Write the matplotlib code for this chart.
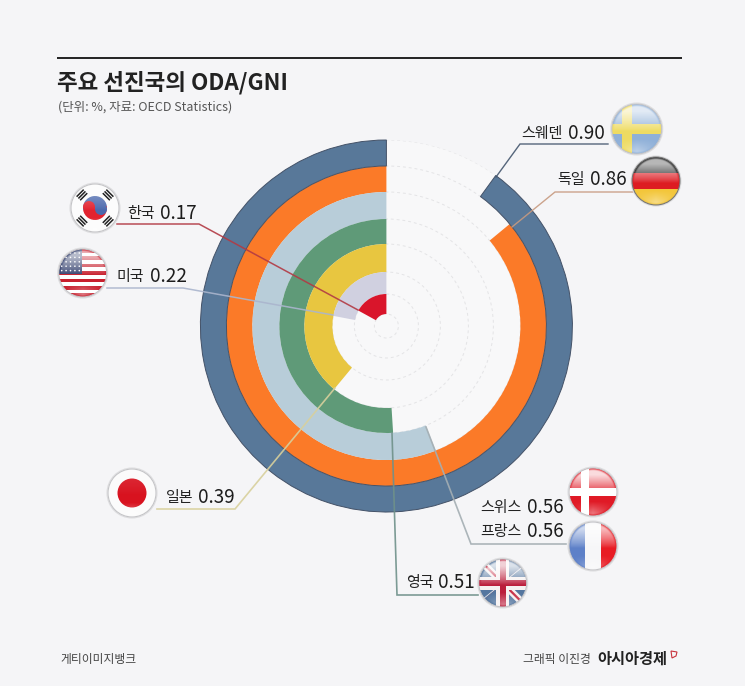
import numpy as np
import matplotlib
matplotlib.use("Agg")
import matplotlib.pyplot as plt
from matplotlib.patches import Circle, Rectangle, Polygon, Wedge

plt.rcParams['font.family'] = ['Noto Sans CJK KR', 'DejaVu Sans']

# ---- data ----
countries = ['스웨덴', '독일', '스위스', '프랑스', '영국', '일본', '미국', '한국']
values = [0.90, 0.86, 0.56, 0.56, 0.51, 0.39, 0.22, 0.17]
title = '주요 선진국의 ODA/GNI'
subtitle = '(단위: %, 자료: OECD Statistics)'

# ---- style ----
W, H = 745, 686
BG = '#f5f5f7'
# rings drawn for one value per band (스위스 and 프랑스 share a band)
ring_values = [0.90, 0.86, 0.56, 0.51, 0.39, 0.22, 0.17]
ring_colors = ['#587899', '#fb7a28', '#b8cdd9', '#5f9a78', '#e8c640', '#d0d0e0', '#d9152b']
ring_outer = [186, 160, 134, 107, 82, 54, 32]
ring_inner = [160, 134, 107, 82, 54, 32, 12]
CX, CY, R = 386.4, 326, 186

fig = plt.figure(figsize=(W / 100, H / 100), dpi=100, facecolor=BG)

# ---- polar chart ----
ax = fig.add_axes([(CX - R) / W, (H - CY - R) / H, 2 * R / W, 2 * R / H], projection='polar')
ax.set_theta_zero_location('N')
ax.set_theta_direction(1)
ax.set_facecolor('#f8f8f9')
for v, c, ro, ri in zip(ring_values, ring_colors, ring_outer, ring_inner):
    t = 2 * np.pi * v
    ax.bar(t / 2, ro - ri, width=t, bottom=ri, color=c, linewidth=0, zorder=3, clip_on=False)
# dark edge of the outer band
t0 = 2 * np.pi * ring_values[0]
ax.bar(t0 / 2, ring_outer[0] - ring_inner[0], width=t0, bottom=ring_inner[0], facecolor='none',
       edgecolor='#445268', linewidth=0.7, zorder=4, clip_on=False)
ax.set_ylim(0, R)
ax.set_yticks(ring_outer + [12])
ax.set_yticklabels([])
ax.set_xticks([])
ax.set_axisbelow(True)
ax.yaxis.grid(True, color='#e4e4e6', linewidth=0.7, linestyle=(0, (3, 3)))
ax.spines['polar'].set_visible(False)

# ---- overlay in pixel coordinates ----
ov = fig.add_axes([0, 0, 1, 1], zorder=5)
ov.set_xlim(0, W)
ov.set_ylim(H, 0)
ov.axis('off')
ov.patch.set_alpha(0)

# header
ov.plot([57, 682], [58, 58], color='#222222', lw=1.4, solid_capstyle='butt')
ov.text(57, 90, title, fontsize=16.2, fontweight='bold', color='#222222', va='baseline', ha='left')
ov.text(58, 111, subtitle, fontsize=9.0, color='#555555', va='baseline', ha='left')

# leaders
leaders = [
    ([608, 520, 496], [144, 144, 177], '#44566e', 1.0),
    ([633, 555, 512], [192, 192, 227], '#c79a80', 1.0),
    ([566, 471, 426], [544, 544, 427], '#a4aeb3', 1.2),
    ([478, 397, 392], [595, 595, 433], '#6f918a', 1.2),
    ([157, 235, 335], [509, 509, 388], '#d8d09c', 1.2),
    ([107, 183, 333], [288, 288, 315], '#aab5cd', 1.1),
    ([117, 199, 358], [224, 224, 310], '#b23a44', 1.1),
]
for xs, ys, c, lw in leaders:
    ov.plot(xs, ys, color=c, lw=lw, alpha=0.9, solid_joinstyle='miter')

# labels: name x, value x, baseline y
label_pos = [(521, 568, 139), (557, 590, 185), (480, 527, 513), (480, 527, 537),
             (406, 438, 588), (166, 198, 503), (116, 150, 282), (127, 160, 219)]
for name, val, (x1, x2, y) in zip(countries, values, label_pos):
    ov.text(x1, y - 1, name, fontsize=10.8, color='#222222', va='baseline', ha='left')
    ov.text(x2, y, f'{val:.2f}', fontsize=13.6, color='#1c1c1c', va='baseline', ha='left')

# footer
ov.text(60, 663, '게티이미지뱅크', fontsize=8.5, color='#444444', va='baseline')
ov.text(523, 663, '그래픽 이진경', fontsize=8.5, color='#444444', va='baseline')
ov.text(597, 664, '아시아경제', fontsize=11.0, fontweight='bold', color='#222222', va='baseline')
ov.add_patch(Polygon([[671, 651], [677, 652], [676, 656], [672, 658]], closed=True, fill=False,
                     edgecolor='#c8323c', lw=0.8))


def gloss(cx, cy, r, strength=0.75, clip=None):
    n = 120
    yy, xx = np.mgrid[-1:1:n * 1j, -1:1:n * 1j]
    d = np.hypot(xx, yy)
    top = np.clip(-yy * 1.25 + 0.1, 0, 1) ** 0.8 * strength
    bottom = np.clip((yy - 0.4) * 1.5, 0, 1) * np.clip(1 - np.abs(xx) * 1.1, 0, 1) * 0.55
    a = np.clip(top + bottom, 0, 1) * np.clip((1.0 - d) * 10, 0, 1)
    rgba = np.ones((n, n, 4))
    rgba[..., 3] = a
    im = ov.imshow(rgba, extent=(cx - r, cx + r, cy + r, cy - r), aspect='auto',
                   zorder=6, interpolation='bilinear')
    im.set_clip_path(clip)
    ov.set_xlim(0, W)
    ov.set_ylim(H, 0)


def flag(cx, cy, r, shapes, strength=0.75, edge='#c4c4c7'):
    clip = Circle((cx, cy), r, transform=ov.transData)
    ov.add_patch(Circle((cx, cy), r + 1, facecolor='#ffffff', edgecolor='#dedee0', lw=0.8, zorder=4))
    for s in shapes:
        s.set_zorder(5)
        ov.add_patch(s)
        s.set_clip_path(clip)
    gloss(cx, cy, r, strength, clip)
    ov.add_patch(Circle((cx, cy), r, facecolor='none', edgecolor=edge, lw=0.8, zorder=7))


def rect(x, y, w, h, c):
    return Rectangle((x, y), w, h, facecolor=c, edgecolor='none')


# Sweden
cx, cy, r = 636.7, 129, 25
flag(cx, cy, r, [rect(cx - r, cy - r, 2 * r, 2 * r, '#8fb0d8'),
                 rect(cx - r, cy - 5, 2 * r, 10, '#eedb62'),
                 rect(cx - 15, cy - r, 10, 2 * r, '#eedb62')], 0.75)
# Germany
cx, cy, r = 656, 181, 24
flag(cx, cy, r, [rect(cx - r, cy - r, 2 * r, 2 * r / 3, '#151515'),
                 rect(cx - r, cy - r / 3, 2 * r, 2 * r / 3, '#dd1c22'),
                 rect(cx - r, cy + r / 3, 2 * r, 2 * r / 3, '#f3c63a')], 0.7, '#777777')
# Denmark flag (label: 스위스)
cx, cy, r = 593, 492, 24
flag(cx, cy, r, [rect(cx - r, cy - r, 2 * r, 2 * r, '#e01a26'),
                 rect(cx - r, cy - 4, 2 * r, 8, '#ffffff'),
                 rect(cx - 12, cy - r, 8, 2 * r, '#ffffff')], 0.85)
# France
cx, cy, r = 593, 546, 24
flag(cx, cy, r, [rect(cx - r, cy - r, 2 * r / 3, 2 * r, '#5d80c8'),
                 rect(cx - r / 3, cy - r, 2 * r / 3, 2 * r, '#f6f6f8'),
                 rect(cx + r / 3, cy - r, 2 * r / 3, 2 * r, '#e81c24')], 0.7)
# UK
cx, cy, r = 502.7, 583, 24
uk = [rect(cx - r, cy - r, 2 * r, 2 * r, '#55769f')]
for sx in (1, -1):
    uk.append(Polygon([[cx - sx * r, cy - r + 5], [cx - sx * r + 5, cy - r],
                       [cx + sx * r, cy + r - 5], [cx + sx * r - 5, cy + r]],
                      closed=True, facecolor='#f6f0f0', edgecolor='none'))
    uk.append(Polygon([[cx - sx * r, cy - r + 1.6], [cx - sx * r + 1.6, cy - r],
                       [cx + sx * r, cy + r - 1.6], [cx + sx * r - 1.6, cy + r]],
                      closed=True, facecolor='#c8334a', edgecolor='none'))
uk += [rect(cx - r, cy - 6.5, 2 * r, 13, '#f6f0f0'), rect(cx - 6.5, cy - r, 13, 2 * r, '#f6f0f0'),
       rect(cx - r, cy - 3, 2 * r, 6, '#bb1e3c'), rect(cx - 3, cy - r, 6, 2 * r, '#bb1e3c')]
flag(cx, cy, r, uk, 0.8)
# Japan
cx, cy, r = 132, 493, 24
flag(cx, cy, r, [rect(cx - r, cy - r, 2 * r, 2 * r, '#fbfbfb'),
                 Circle((cx, cy), 14.5, facecolor='#d8121f', edgecolor='none')], 0.1)
# USA
cx, cy, r = 82.7, 273, 24
us = [rect(cx - r, cy - r, 2 * r, 2 * r, '#ffffff')]
sh = 2 * r / 13
for i in range(0, 13, 2):
    us.append(rect(cx - r, cy - r + i * sh, 2 * r, sh, '#c8202e'))
us.append(rect(cx - r, cy - r, r * 0.95, r * 1.05, '#33406e'))
for i in range(5):
    for j in range(5):
        us.append(Circle((cx - r + 3 + j * 4.4, cy - r + 4 + i * 4.4), 0.8, facecolor='white', edgecolor='none'))
flag(cx, cy, r, us, 0.65)
# Korea
cx, cy, r = 95, 208, 24
kr = [rect(cx - r, cy - r, 2 * r, 2 * r, '#fcfcfc'),
      Wedge((cx, cy), 12, 170, 350, facecolor='#4b69ad', edgecolor='none'),
      Wedge((cx, cy), 12, -10, 170, facecolor='#e2232f', edgecolor='none'),
      Circle((cx - 6, cy - 1), 6, facecolor='#e2232f', edgecolor='none'),
      Circle((cx + 6, cy + 1), 6, facecolor='#4b69ad', edgecolor='none')]
for ang in (135, 45, -45, -135):
    a = np.radians(ang)
    dx, dy = np.cos(a), -np.sin(a)
    for k in (16, 18.5, 21):
        px, py = cx + k * dx, cy + k * dy
        nx, ny = -dy * 5, dx * 5
        ov.plot([px - nx, px + nx], [py - ny, py + ny], color='#222222', lw=1.1, zorder=7,
                solid_capstyle='butt')
flag(cx, cy, r, kr, 0.3)

ov.set_xlim(0, W)
ov.set_ylim(H, 0)
fig.savefig('out.png', dpi=100, facecolor=BG)
